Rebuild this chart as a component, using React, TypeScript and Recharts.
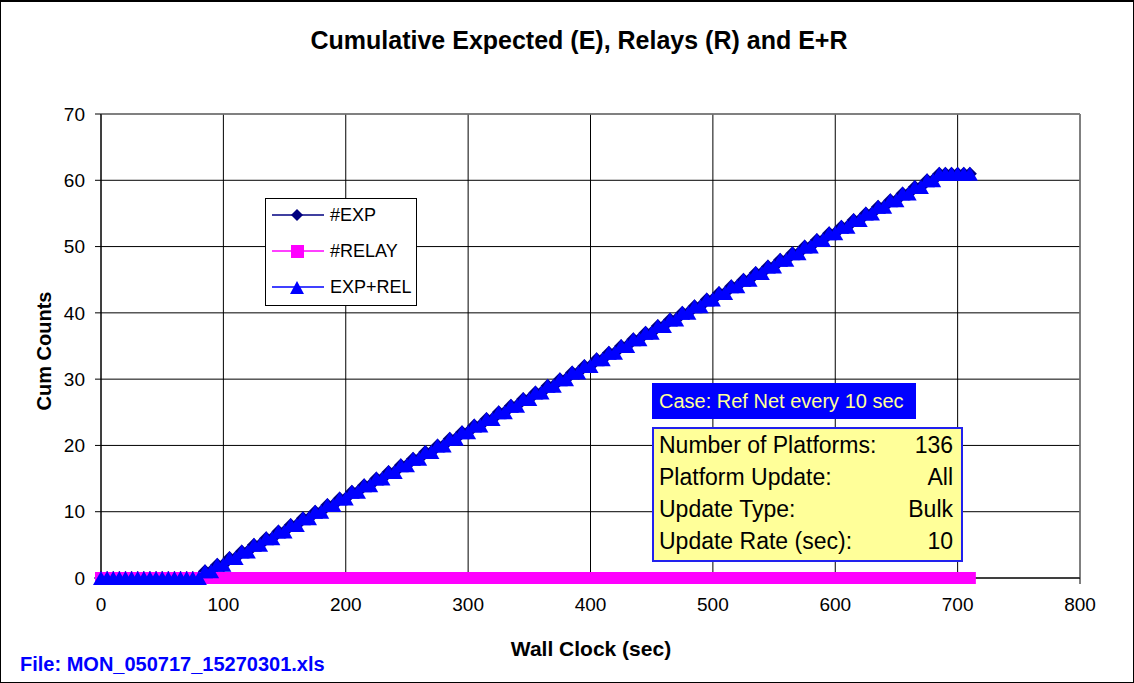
import React from 'react';
import { LineChart, Line, XAxis, YAxis, CartesianGrid, ReferenceLine } from 'recharts';

// sample times (sec)
const timeSec = [
  0, 5, 10, 15, 20, 25, 30, 35, 40, 45, 50, 55, 60, 65, 70, 75, 80, 85, 90, 95,
  100, 105, 110, 115, 120, 125, 130, 135, 140, 145, 150, 155, 160, 165, 170, 175, 180, 185, 190, 195,
  200, 205, 210, 215, 220, 225, 230, 235, 240, 245, 250, 255, 260, 265, 270, 275, 280, 285, 290, 295,
  300, 305, 310, 315, 320, 325, 330, 335, 340, 345, 350, 355, 360, 365, 370, 375, 380, 385, 390, 395,
  400, 405, 410, 415, 420, 425, 430, 435, 440, 445, 450, 455, 460, 465, 470, 475, 480, 485, 490, 495,
  500, 505, 510, 515, 520, 525, 530, 535, 540, 545, 550, 555, 560, 565, 570, 575, 580, 585, 590, 595,
  600, 605, 610, 615, 620, 625, 630, 635, 640, 645, 650, 655, 660, 665, 670, 675, 680, 685, 690, 695,
  700, 705, 710,
];

const expCounts = [
  0, 0, 0, 0, 0, 0, 0, 0, 0, 0, 0, 0, 0, 0, 0, 0, 0, 1, 1, 2,
  2, 3, 3, 4, 4, 5, 5, 6, 6, 7, 7, 8, 8, 9, 9, 10, 10, 11, 11, 12,
  12, 13, 13, 14, 14, 15, 15, 16, 16, 17, 17, 18, 18, 19, 19, 20, 20, 21, 21, 22,
  22, 23, 23, 24, 24, 25, 25, 26, 26, 27, 27, 28, 28, 29, 29, 30, 30, 31, 31, 32,
  32, 33, 33, 34, 34, 35, 35, 36, 36, 37, 37, 38, 38, 39, 39, 40, 40, 41, 41, 42,
  42, 43, 43, 44, 44, 45, 45, 46, 46, 47, 47, 48, 48, 49, 49, 50, 50, 51, 51, 52,
  52, 53, 53, 54, 54, 55, 55, 56, 56, 57, 57, 58, 58, 59, 59, 60, 60, 61, 61, 61,
  61, 61, 61,
];

const relayCounts = [
  0, 0, 0, 0, 0, 0, 0, 0, 0, 0, 0, 0, 0, 0, 0, 0, 0, 0, 0, 0,
  0, 0, 0, 0, 0, 0, 0, 0, 0, 0, 0, 0, 0, 0, 0, 0, 0, 0, 0, 0,
  0, 0, 0, 0, 0, 0, 0, 0, 0, 0, 0, 0, 0, 0, 0, 0, 0, 0, 0, 0,
  0, 0, 0, 0, 0, 0, 0, 0, 0, 0, 0, 0, 0, 0, 0, 0, 0, 0, 0, 0,
  0, 0, 0, 0, 0, 0, 0, 0, 0, 0, 0, 0, 0, 0, 0, 0, 0, 0, 0, 0,
  0, 0, 0, 0, 0, 0, 0, 0, 0, 0, 0, 0, 0, 0, 0, 0, 0, 0, 0, 0,
  0, 0, 0, 0, 0, 0, 0, 0, 0, 0, 0, 0, 0, 0, 0, 0, 0, 0, 0, 0,
  0, 0, 0,
];

const xTicks = [0, 100, 200, 300, 400, 500, 600, 700, 800];
const yTicks = [0, 10, 20, 30, 40, 50, 60, 70];

const infoRows = [
  ['Number of Platforms:', '136'],
  ['Platform Update:', 'All'],
  ['Update Type:', 'Bulk'],
  ['Update Rate (sec):', '10'],
];

const chartData = timeSec.map((t, i) => ({
  t,
  exp: expCounts[i],
  relay: relayCounts[i],
  total: expCounts[i] + relayCounts[i],
}));

const FONT = '"Liberation Sans", Arial, sans-serif';
const NAVY = '#000080';
const MAGENTA = '#FF00FF';
const BLUE = '#0000FF';

const diamondDot = (props: any) => {
  const { cx, cy, index } = props;
  if (cx == null || cy == null) return <g key={`d${index}`} />;
  return (
    <polygon
      key={`d${index}`}
      points={`${cx},${cy - 7} ${cx + 7},${cy} ${cx},${cy + 7} ${cx - 7},${cy}`}
      fill={NAVY}
    />
  );
};

const squareDot = (props: any) => {
  const { cx, cy, index } = props;
  if (cx == null || cy == null) return <g key={`s${index}`} />;
  return <rect key={`s${index}`} x={cx - 6} y={cy - 6} width={12} height={12} fill={MAGENTA} />;
};

const triangleDot = (props: any) => {
  const { cx, cy, index } = props;
  if (cx == null || cy == null) return <g key={`t${index}`} />;
  return (
    <polygon
      key={`t${index}`}
      points={`${cx},${cy - 7} ${cx + 8},${cy + 7} ${cx - 8},${cy + 7}`}
      fill={BLUE}
    />
  );
};

const legendItems = [
  { name: '#EXP', color: NAVY, shape: 'diamond' },
  { name: '#RELAY', color: MAGENTA, shape: 'square' },
  { name: 'EXP+REL', color: BLUE, shape: 'triangle' },
];

const LegendIcon = ({ color, shape }: { color: string; shape: string }) => (
  <svg width={52} height={16} style={{ display: 'block' }}>
    <line x1={0} y1={8} x2={52} y2={8} stroke={color} strokeWidth={1.5} />
    {shape === 'diamond' && <polygon points="25,2 31,8 25,14 19,8" fill={color} />}
    {shape === 'square' && <rect x={19} y={2} width={13} height={13} fill={color} />}
    {shape === 'triangle' && <polygon points="25,2 32,15 18,15" fill={color} />}
  </svg>
);

export default function App() {
  return (
    <div
      style={{
        position: 'absolute',
        left: 0,
        top: 0,
        width: 1134,
        height: 683,
        background: '#fff',
        fontFamily: FONT,
        boxSizing: 'border-box',
        border: '1px solid #000',
        borderTop: '2px solid #000',
        overflow: 'hidden',
      }}
    >
      <div style={{ position: 'absolute', left: -1, top: -2 }}>
        <LineChart
          width={1134}
          height={683}
          data={chartData}
          margin={{ top: 114, right: 54, bottom: 75, left: 41 }}
          style={{ fontFamily: FONT }}
        >
          <CartesianGrid stroke="#000" strokeWidth={1} />
          <XAxis
            dataKey="t"
            type="number"
            domain={[0, 800]}
            ticks={xTicks}
            interval={0}
            height={30}
            tickSize={6}
            tickMargin={14}
            stroke="#000"
            tick={{ fontSize: 19, fill: '#000', fontFamily: FONT }}
          />
          <YAxis
            type="number"
            domain={[0, 70]}
            ticks={yTicks}
            interval={0}
            width={60}
            tickSize={6}
            tickMargin={10}
            stroke="#000"
            tick={{ fontSize: 19, fill: '#000', fontFamily: FONT }}
          />
          <ReferenceLine y={70} stroke="#808080" strokeWidth={1.5} />
          <ReferenceLine x={800} stroke="#808080" strokeWidth={1.5} />
          <Line
            dataKey="exp"
            stroke={NAVY}
            strokeWidth={1}
            dot={diamondDot}
            activeDot={false}
            isAnimationActive={false}
          />
          <Line
            dataKey="relay"
            stroke={MAGENTA}
            strokeWidth={1}
            dot={squareDot}
            activeDot={false}
            isAnimationActive={false}
          />
          <Line
            dataKey="total"
            stroke={BLUE}
            strokeWidth={1}
            dot={triangleDot}
            activeDot={false}
            isAnimationActive={false}
          />
        </LineChart>
      </div>

      {/* title */}
      <div
        style={{
          position: 'absolute',
          left: 0,
          width: 1156,
          top: 24,
          textAlign: 'center',
          fontSize: 25,
          fontWeight: 'bold',
          lineHeight: '28px',
        }}
      >
        Cumulative Expected (E), Relays (R) and E+R
      </div>

      {/* y axis title */}
      <div
        style={{
          position: 'absolute',
          left: 43,
          top: 349,
          transform: 'translate(-50%, -50%) rotate(-90deg)',
          fontSize: 20,
          fontWeight: 'bold',
          whiteSpace: 'nowrap',
        }}
      >
        Cum Counts
      </div>

      {/* x axis title */}
      <div
        style={{
          position: 'absolute',
          left: 590,
          top: 647,
          transform: 'translate(-50%, -50%)',
          fontSize: 21,
          fontWeight: 'bold',
          whiteSpace: 'nowrap',
        }}
      >
        Wall Clock (sec)
      </div>

      {/* file name */}
      <div
        style={{
          position: 'absolute',
          left: 19,
          top: 662,
          transform: 'translateY(-50%)',
          fontSize: 20,
          fontWeight: 'bold',
          color: '#0000FF',
          whiteSpace: 'nowrap',
        }}
      >
        File: MON_050717_15270301.xls
      </div>

      {/* legend */}
      <div
        style={{
          position: 'absolute',
          left: 264,
          top: 196,
          width: 152,
          height: 108,
          boxSizing: 'border-box',
          border: '1px solid #000',
          background: '#fff',
        }}
      >
        {legendItems.map((item, i) => (
          <div
            key={item.name}
            style={{
              position: 'absolute',
              left: 6,
              top: 8 + i * 36,
              display: 'flex',
              alignItems: 'center',
              height: 16,
            }}
          >
            <LegendIcon color={item.color} shape={item.shape} />
            <span style={{ marginLeft: 6, fontSize: 18, whiteSpace: 'nowrap' }}>{item.name}</span>
          </div>
        ))}
      </div>

      {/* case label */}
      <div
        style={{
          position: 'absolute',
          left: 651,
          top: 381,
          width: 264,
          height: 36,
          background: '#0000FF',
          color: '#FFFF99',
          fontSize: 20,
          lineHeight: '36px',
          paddingLeft: 7,
          boxSizing: 'border-box',
          whiteSpace: 'nowrap',
        }}
      >
        Case: Ref Net every 10 sec
      </div>

      {/* info box */}
      <div
        style={{
          position: 'absolute',
          left: 651,
          top: 425,
          width: 311,
          height: 135,
          background: '#FFFF99',
          border: '2px solid #2222ee',
          boxSizing: 'border-box',
          padding: '0 8px 0 5px',
        }}
      >
        {infoRows.map(([label, value]) => (
          <div
            key={label}
            style={{
              display: 'flex',
              justifyContent: 'space-between',
              fontSize: 23,
              lineHeight: '32px',
              whiteSpace: 'nowrap',
            }}
          >
            <span>{label}</span>
            <span>{value}</span>
          </div>
        ))}
      </div>
    </div>
  );
}
